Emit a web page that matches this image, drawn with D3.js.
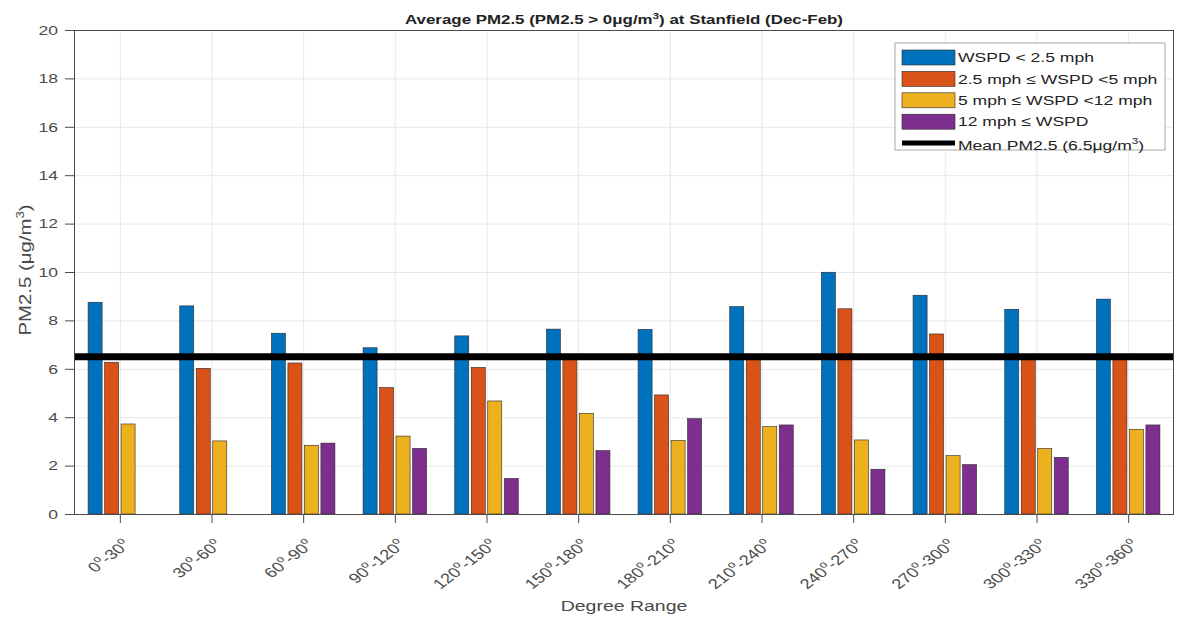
<!DOCTYPE html>
<html>
<head>
<meta charset="utf-8">
<script src="https://cdn.jsdelivr.net/npm/d3@7"></script>
<style>
    body { margin: 0; background: #fff; }
    svg { display: block; font-family: "Liberation Sans", Arial, sans-serif; }
</style>
</head>
<body>
<svg id="chart" width="1182" height="619"></svg>
<script>
const categories = ["0-30", "30-60", "60-90", "90-120", "120-150", "150-180",
    "180-210", "210-240", "240-270", "270-300", "300-330", "330-360"];
const wspdLow = [8.75, 8.6, 7.47, 6.87, 7.36, 7.64, 7.63, 8.57, 9.99, 9.04, 8.46, 8.88];
const wspdMid = [6.27, 6.02, 6.24, 5.23, 6.06, 6.45, 4.92, 6.45, 8.48, 7.44, 6.42, 6.44];
const wspdHigh = [3.72, 3.02, 2.84, 3.22, 4.67, 4.16, 3.04, 3.61, 3.06, 2.41, 2.71, 3.5];
const wspdVeryHigh = [0, 0, 2.93, 2.71, 1.47, 2.62, 3.94, 3.68, 1.85, 2.04, 2.34, 3.68];
const meanPM = 6.5;
const yTicks = [0, 2, 4, 6, 8, 10, 12, 14, 16, 18, 20];

const series = [
    { name: "WSPD < 2.5 mph", values: wspdLow, color: "#0072BD" },
    { name: "2.5 mph \u2264 WSPD <5 mph", values: wspdMid, color: "#D95319" },
    { name: "5 mph \u2264 WSPD <12 mph", values: wspdHigh, color: "#EDB120" },
    { name: "12 mph \u2264 WSPD", values: wspdVeryHigh, color: "#7E2F8E" },
];

const width = 1182;
const height = 619;
const margin = { top: 30, right: 8, bottom: 105, left: 74 };
const axisColor = "#4a4a4a";
// the source figure is stretched sideways, so text is too
const stretch = 1.3;

const svg = d3.select("#chart");

const x = d3.scaleLinear()
    .domain([0.5, categories.length + 0.5])
    .range([margin.left, width - margin.right]);
const y = d3.scaleLinear()
    .domain([0, 20])
    .range([height - margin.bottom, margin.top]);

// bar layout in data units, like matlab grouped bars
const pitch = 0.18;
const barW = 0.153;
const offsets = series.map((_, i) => (i - (series.length - 1) / 2) * pitch);

// grid
const grid = svg.append("g").attr("stroke", "#e8e8e8").attr("stroke-width", 1);
grid.selectAll("line.h")
    .data(yTicks)
    .join("line")
    .attr("x1", margin.left)
    .attr("x2", width - margin.right)
    .attr("y1", (d) => y(d) + 0.5)
    .attr("y2", (d) => y(d) + 0.5);
grid.selectAll("line.v")
    .data(d3.range(1, categories.length + 1))
    .join("line")
    .attr("x1", (d) => x(d) + 0.5)
    .attr("x2", (d) => x(d) + 0.5)
    .attr("y1", margin.top)
    .attr("y2", height - margin.bottom);

// bars
series.forEach((s, si) => {
    svg.append("g")
        .selectAll("rect")
        .data(s.values.map((v, i) => ({ v, i })).filter((d) => d.v > 0))
        .join("rect")
        .attr("x", (d) => x(d.i + 1 + offsets[si] - barW / 2))
        .attr("width", (d) => x(d.i + 1 + offsets[si] + barW / 2) - x(d.i + 1 + offsets[si] - barW / 2))
        .attr("y", (d) => y(d.v))
        .attr("height", (d) => y(0) - y(d.v))
        .attr("fill", s.color)
        .attr("stroke", "#2a2a2a")
        .attr("stroke-width", 0.6);
});

// mean line
svg.append("line")
    .attr("x1", x(0.5))
    .attr("x2", x(categories.length + 0.5))
    .attr("y1", y(meanPM))
    .attr("y2", y(meanPM))
    .attr("stroke", "#000")
    .attr("stroke-width", 7);

// axes
const yAxis = d3.axisLeft(y).tickValues(yTicks).tickSize(9);
const xAxis = d3.axisBottom(x)
    .tickValues(d3.range(1, categories.length + 1))
    .tickSize(9)
    .tickFormat(() => "");

svg.append("g")
    .attr("transform", `translate(${margin.left}, 0)`)
    .call(yAxis)
    .call((g) => g.select(".domain").remove())
    .call((g) => g.selectAll("line").attr("stroke", axisColor))
    .call((g) =>
        g.selectAll("text")
            .attr("fill", axisColor)
            .attr("x", -16 / stretch)
            .attr("transform", `scale(${stretch}, 1)`)
            .style("font-size", "13.5px")
    );

svg.append("g")
    .attr("transform", `translate(0, ${height - margin.bottom})`)
    .call(xAxis)
    .call((g) => g.select(".domain").remove())
    .call((g) => g.selectAll("line").attr("stroke", axisColor));

// box
svg.append("rect")
    .attr("x", margin.left + 0.5)
    .attr("y", margin.top + 0.5)
    .attr("width", width - margin.left - margin.right - 1)
    .attr("height", height - margin.top - margin.bottom)
    .attr("fill", "none")
    .attr("stroke", axisColor)
    .attr("stroke-width", 1);

// rotated x labels with superscript o
const xLabels = svg.append("g")
    .selectAll("text")
    .data(categories)
    .join("text")
    .attr("transform", (d, i) =>
        `translate(${x(i + 1) + 7}, ${y(0) + 28}) scale(${stretch}, 1) rotate(-45)`)
    .attr("text-anchor", "end")
    .attr("dy", "0.35em")
    .attr("fill", axisColor)
    .style("font-size", "14px");
xLabels.each(function (d) {
    const [a, b] = d.split("-");
    const t = d3.select(this);
    t.append("tspan").text(a);
    t.append("tspan").attr("dy", -6).style("font-size", "10px").text("o");
    t.append("tspan").attr("dy", 6).text("-" + b);
    t.append("tspan").attr("dy", -6).style("font-size", "10px").text("o");
});

// axis titles
svg.append("text")
    .attr("transform", `translate(${x(6.5)}, 611) scale(${stretch}, 1)`)
    .attr("text-anchor", "middle")
    .attr("fill", axisColor)
    .style("font-size", "15px")
    .text("Degree Range");

const yTitle = svg.append("text")
    .attr("transform", `translate(31, 270) scale(1, 1.2) rotate(-90)`)
    .attr("text-anchor", "middle")
    .attr("fill", axisColor)
    .style("font-size", "17px");
yTitle.append("tspan").text("PM2.5 (\u03bcg/m");
yTitle.append("tspan").attr("dy", -7).style("font-size", "11px").text("3");
yTitle.append("tspan").attr("dy", 7).text(")");

const title = svg.append("text")
    .attr("transform", `translate(${x(6.5)}, 24) scale(${stretch}, 1)`)
    .attr("text-anchor", "middle")
    .attr("fill", "#222")
    .style("font-size", "13px")
    .style("font-weight", "bold");
title.append("tspan").text("Average PM2.5 (PM2.5 > 0\u03bcg/m");
title.append("tspan").attr("dy", -5).style("font-size", "9px").text("3");
title.append("tspan").attr("dy", 5).text(") at Stanfield (Dec-Feb)");

// legend
const legend = svg.append("g").attr("transform", "translate(895, 43)");
legend.append("rect")
    .attr("width", 270)
    .attr("height", 107)
    .attr("fill", "#fff")
    .attr("stroke", "#a8a8a8")
    .attr("stroke-width", 1);

const rowH = 21.4;
series.forEach((s, i) => {
    const cy = 14.5 + i * rowH;
    legend.append("rect")
        .attr("x", 7)
        .attr("y", cy - 7.5)
        .attr("width", 53)
        .attr("height", 15)
        .attr("fill", s.color)
        .attr("stroke", "#2a2a2a")
        .attr("stroke-width", 0.6);
    legend.append("text")
        .attr("transform", `translate(63, ${cy}) scale(${stretch}, 1)`)
        .attr("dy", "0.35em")
        .attr("fill", "#222")
        .style("font-size", "13.5px")
        .text(s.name);
});

const meanY = 14.5 + 4 * rowH + 2;
legend.append("line")
    .attr("x1", 7)
    .attr("x2", 60)
    .attr("y1", meanY - 2)
    .attr("y2", meanY - 2)
    .attr("stroke", "#000")
    .attr("stroke-width", 5);
const meanLabel = legend.append("text")
    .attr("transform", `translate(63, ${meanY}) scale(${stretch}, 1)`)
    .attr("dy", "0.35em")
    .attr("fill", "#222")
    .style("font-size", "13.5px");
meanLabel.append("tspan").text(`Mean PM2.5 (${meanPM}\u03bcg/m`);
meanLabel.append("tspan").attr("dy", -6).style("font-size", "9px").text("3");
meanLabel.append("tspan").attr("dy", 6).text(")");
</script>
</body>
</html>
